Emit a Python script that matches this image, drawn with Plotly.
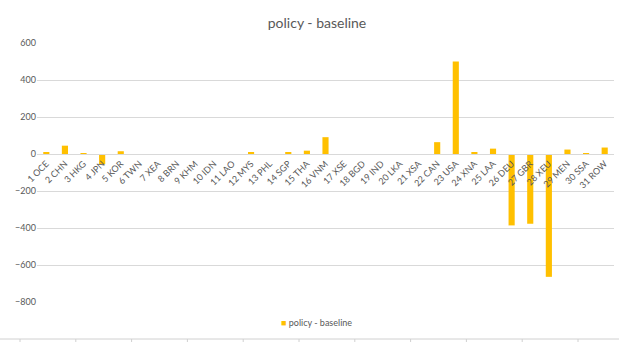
import plotly.graph_objects as go

categories = ["1 OCE", "2 CHN", "3 HKG", "4 JPN", "5 KOR", "6 TWN", "7 XEA", "8 BRN",
              "9 KHM", "10 IDN", "11 LAO", "12 MYS", "13 PHL", "14 SGP", "15 THA",
              "16 VNM", "17 XSE", "18 BGD", "19 IND", "20 LKA", "21 XSA", "22 CAN",
              "23 USA", "24 XNA", "25 LAA", "26 DEU", "27 GBR", "28 XEU", "29 MEN",
              "30 SSA", "31 ROW"]
values = [10, 45, 5, -55, 15, 0, 0, 0,
          0, 0, 0, 8, 0, 8, 18,
          91, 0, 0, 0, 0, 0, 64,
          500, 9, 29, -386, -377, -664, 24,
          5, 35]
series_name = "policy - baseline"
y_ticks = [-800, -600, -400, -200, 0, 200, 400, 600]

W, H = 619, 342
ml, mr, mt, mb = 37, 5, 43, 40
ymin, ymax = -800, 600
zero_pos = (0 - ymin) / (ymax - ymin)

font_fam = "Lato, 'Open Sans', sans-serif"
grey = "#595959"
grid = "#d9d9d9"
bar_color = "#FFC000"

fig = go.Figure()
fig.add_trace(go.Bar(x=categories, y=values, name=series_name,
                     marker_color=bar_color, marker_line_width=0, showlegend=False))

pw = W - ml - mr
ph = H - mt - mb
def px_x(x):
    return (x - ml) / pw
def px_y(y):
    return (H - mb - y) / ph

shapes = [dict(type="line", xref="paper", yref="paper",
               x0=px_x(0), x1=px_x(W), y0=px_y(339), y1=px_y(339),
               line=dict(color="#d0d0d0", width=1))]
for i in range(11):
    xx = 20 + i * 55.8
    shapes.append(dict(type="line", xref="paper", yref="paper",
                       x0=px_x(xx), x1=px_x(xx), y0=px_y(339), y1=px_y(H),
                       line=dict(color="#d0d0d0", width=1)))

# legend entry (small square + label) as in the original
fig.add_annotation(xref="paper", yref="paper", x=px_x(316), y=px_y(322),
                   xanchor="center", yanchor="middle", showarrow=False,
                   text=f'<span style="color:{bar_color}">■</span> {series_name}',
                   font=dict(size=9, color=grey, family=font_fam))

fig.update_layout(
    width=W, height=H,
    margin=dict(l=ml, r=mr, t=mt, b=mb),
    paper_bgcolor="white", plot_bgcolor="white",
    font=dict(family=font_fam, color=grey, size=9),
    title=dict(text=series_name, x=317 / W, xref="container", xanchor="center",
               y=1 - 23 / H, yanchor="middle",
               font=dict(size=14, color=grey, family=font_fam, weight="normal")),
    bargap=0.67,
    showlegend=False,
    xaxis=dict(anchor="free", position=zero_pos, tickangle=-45,
               showline=True, linecolor=grid, linewidth=1,
               showgrid=False, ticks="", tickfont=dict(size=9, color=grey)),
    yaxis=dict(range=[ymin, ymax], tickvals=y_ticks, showgrid=True, gridcolor=grid,
               gridwidth=1, zeroline=False, showline=False, ticks="",
               tickfont=dict(size=9, color=grey)),
    shapes=shapes,
)

fig.write_html("out.html")
